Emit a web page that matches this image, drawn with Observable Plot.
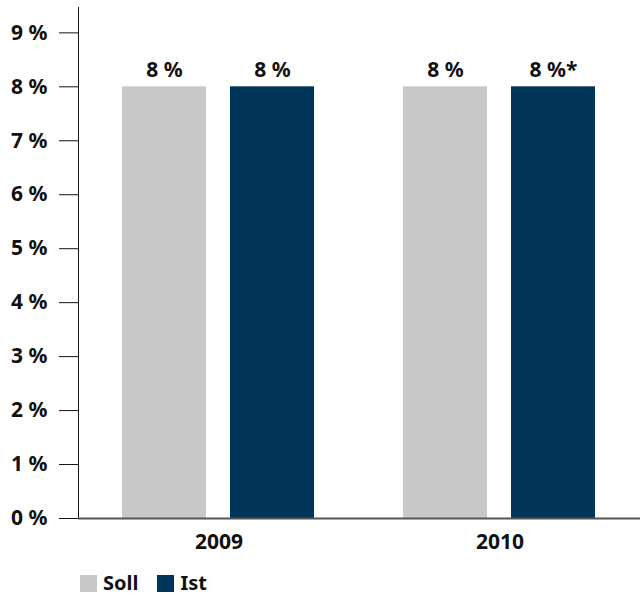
<!DOCTYPE html>
<html>
<head>
<meta charset="utf-8">
<script src="https://cdn.jsdelivr.net/npm/d3@7"></script>
<script src="https://cdn.jsdelivr.net/npm/@observablehq/plot@0.6"></script>
<style>
  body { margin: 0; background: #fff; font-family: "Noto Sans", sans-serif; }
  #chart svg { display: block; }
  #legend { display: flex; align-items: center; margin: 10px 0 0 80px; font-weight: 700; font-size: 20px; line-height: 22px; height: 22px; color: #111; }
  #legend .sw { width: 17px; height: 17px; display: inline-block; margin-right: 6px; }
  #legend .item { display: flex; align-items: center; margin-right: 19px; }
</style>
</head>
<body>
<div id="chart"></div>
<script>
const years = ["2009", "2010"];
const series = ["Soll", "Ist"];
const colors = ["#c8c8c8", "#003459"];
const values = [
  [8, 8],   // 2009: Soll, Ist
  [8, 8]    // 2010: Soll, Ist
];
const valueLabels = [
  ["8 %", "8 %"],
  ["8 %", "8 %*"]
];
const yTicks = [0, 1, 2, 3, 4, 5, 6, 7, 8, 9];

const data = [];
years.forEach((yr, i) => series.forEach((s, j) => data.push({year: yr, series: s, value: values[i][j], label: valueLabels[i][j]})));

const chart = Plot.plot({
  width: 640,
  height: 562,
  marginLeft: 78,
  marginRight: 0,
  marginTop: 7,
  marginBottom: 44,
  style: {fontFamily: "Noto Sans, sans-serif", fontSize: "21px", fontWeight: 700, color: "#111", background: "#fff"},
  fx: {domain: years, paddingInner: 0, paddingOuter: 0, label: null, tickSize: 0, tickPadding: 16},
  x: {domain: series, paddingInner: 0.222, paddingOuter: 0.41, axis: null},
  y: {domain: [0, 9.47], ticks: yTicks, tickFormat: d => d + " %", tickSize: 19, tickPadding: 12, label: null, line: true},
  color: {domain: series, range: colors},
  marks: [
    Plot.barY(data, {fx: "year", x: "series", y: "value", fill: "series"}),
    Plot.ruleY([0], {stroke: "#555", strokeWidth: 2}),
    Plot.text(data, {fx: "year", x: "series", y: "value", text: "label", dy: -10, lineAnchor: "bottom", fill: "#111", fontWeight: 700, fontSize: 21})
  ]
});
document.getElementById("chart").appendChild(chart);

const legend = document.createElement("div");
legend.id = "legend";
series.forEach((s, i) => {
  const item = document.createElement("span");
  item.className = "item";
  const sw = document.createElement("span");
  sw.className = "sw";
  sw.style.background = colors[i];
  item.appendChild(sw);
  item.appendChild(document.createTextNode(s));
  legend.appendChild(item);
});
document.body.appendChild(legend);
</script>
</body>
</html>
